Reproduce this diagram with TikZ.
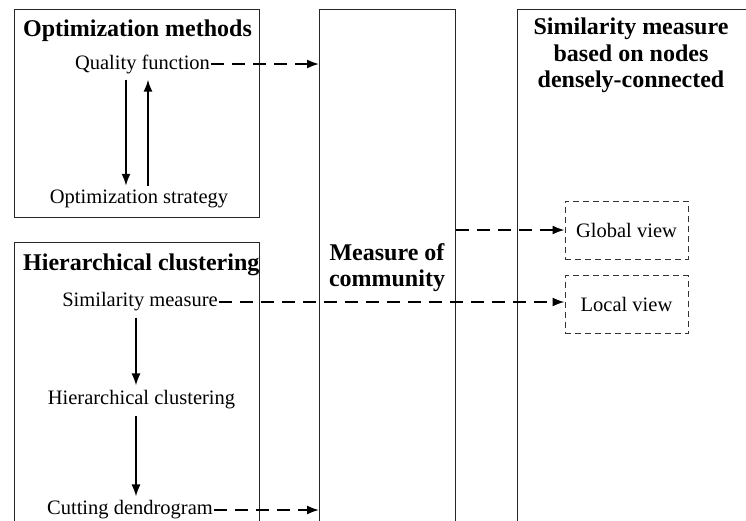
\documentclass[tikz,border=0pt]{standalone}
\usepackage{fontspec}
\setmainfont{Liberation Serif}
\usetikzlibrary{arrows.meta,positioning}

\begin{document}
\begin{tikzpicture}[x=1pt,y=-1pt,
  frame/.style={draw=black!85,line width=1pt,anchor=north west,inner sep=0pt},
  viewbox/.style={draw=black!80,line width=1pt,dash pattern=on 6pt off 4pt,minimum width=123pt,minimum height=58pt,inner sep=0pt,font=\fontsize{20.5}{24}\selectfont},
  txt/.style={inner sep=0pt,font=\fontsize{20.5}{24}\selectfont},
  ttl/.style={inner sep=0pt,align=center,font=\fontsize{24}{26.5}\selectfont\bfseries},
  solarrow/.style={line width=1.8pt,-{Latex[length=12pt,width=9pt]}},
  dasharrow/.style={line width=1.8pt,dash pattern=on 13pt off 8pt,-{Latex[length=12pt,width=9pt]}}]
  \useasboundingbox (0,0) rectangle (746,520);
  \clip (0,0) rectangle (746,520);
  % columns
  \node[frame,minimum width=245pt,minimum height=208pt] (optbox) at (14,9) {};
  \node[frame,minimum width=245pt,minimum height=300pt] (hierbox) at (14,242) {};
  \node[frame,minimum width=136pt,minimum height=530pt] (commbox) at (319,9) {};
  \node[frame,minimum width=260pt,minimum height=530pt] (simbox) at (517,9) {};
  % titles
  \node[ttl,anchor=west] (opttitle) at (23,31) {Optimization methods};
  \node[ttl,anchor=west] (hiertitle) at (23,265) {Hierarchical clustering};
  \node[ttl] (commtitle) at (387,267.5) {Measure of\\community};
  \node[ttl] (simtitle) at (631,55.5) {Similarity measure\\based on nodes\\densely-connected};
  % optimization methods
  \node[txt] (qf) at (142.5,64) {Quality function};
  \node[txt] (os) at (139,199) {Optimization strategy};
  \draw[solarrow] ([xshift=-16.5pt,yshift=-6pt]qf.south) -- ([xshift=-16.5pt,yshift=4pt]qf.south |- os.north);
  \draw[solarrow] ([xshift=5.5pt,yshift=4pt]qf.south |- os.north) -- ([xshift=5.5pt,yshift=-6pt]qf.south);
  % hierarchical clustering
  \node[txt] (sm) at (140,302) {Similarity measure};
  \node[txt] (hc) at (141.5,400) {Hierarchical clustering};
  \node[txt] (cd) at (130,510) {Cutting dendrogram};
  \draw[solarrow] ([yshift=-6pt]sm.south -| 136,0) -- ([yshift=5pt]hc.north -| 136,0);
  \draw[solarrow] ([yshift=-6pt]hc.south -| 136,0) -- ([yshift=4pt]cd.north -| 136,0);
  % views
  \node[viewbox] (gv) at (626.5,230) {Global view};
  \node[viewbox] (lv) at (626.5,304.5) {Local view};
  % links
  \draw[dasharrow] ([xshift=1pt]qf.east) -- (qf.east -| commbox.west);
  \draw[dasharrow] ([xshift=1pt]cd.east) -- (cd.east -| commbox.west);
  \draw[dasharrow] (gv.west -| commbox.east) -- (gv.west);
  \draw[dasharrow] ([xshift=1pt]sm.east) -- (sm.east -| lv.west);
\end{tikzpicture}
\end{document}
